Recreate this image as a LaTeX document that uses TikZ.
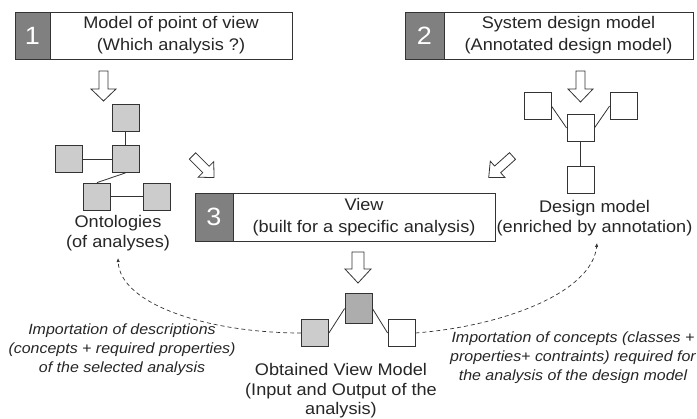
\documentclass[tikz,border=0pt]{standalone}
\usepackage{fontspec}
\setmainfont[FakeStretch=1.08]{Liberation Sans}
\usepackage{tikz}
\usetikzlibrary{shapes,backgrounds,positioning,arrows.meta}

\begin{document}
\begin{tikzpicture}[x=1pt,y=-1pt,
  every node/.style={text=black!85},
  numbox/.style={draw=black!80, fill=black!50, text=white, inner sep=0, minimum height=47, line width=0.8pt, font=\fontsize{25}{25}\selectfont},
  titlebox/.style={draw=black!80, fill=white, inner sep=0, minimum height=47, line width=0.8pt, align=center, font=\fontsize{16.8}{22}\selectfont},
  onto/.style={draw=black!80, fill=black!20, minimum size=27, inner sep=0, line width=0.8pt},
  design/.style={draw=black!80, fill=white, minimum size=27, inner sep=0, line width=0.8pt},
  link/.style={draw=black!80, line width=0.8pt},
  label/.style={align=center, font=\fontsize{16.8}{19.5}\selectfont},
  remark/.style={align=center, font=\fontsize{14.8}{19}\selectfont\itshape},
  hollow/.style={draw=black!80, fill=white, line width=0.8pt, line join=miter},
  import/.style={draw=black!80, line width=0.7pt, dash pattern=on 4pt off 3pt, -{Latex[length=4pt,width=3.5pt]}}]
\useasboundingbox (0,0) rectangle (697,419);

% the three numbered titles
\node[numbox, minimum width=35] (N1) at (32.5,35.5) {1};
\node[titlebox, minimum width=242] (T1) at (171,35.5) {Model of point of view\\(Which analysis ?)};
\node[numbox, minimum width=39] (N2) at (424.5,35.5) {2};
\node[titlebox, minimum width=249] (T2) at (568.5,35.5) {System design model\\(Annotated design model)};
\node[numbox, minimum width=38, minimum height=48] (N3) at (214,217) {3};
\node[titlebox, minimum width=262, minimum height=48] (T3) at (364,217) {View\\(built for a specific analysis)};

% ontologies
\node[onto] (O1) at (125.5,117.5) {};
\node[onto] (O2) at (68.5,159) {};
\node[onto] (O3) at (125.5,159) {};
\node[onto] (O4) at (97,196.5) {};
\node[onto] (O5) at (157,196.5) {};
\draw[link] (O1) -- (O3);
\draw[link] (O2) -- (O3);
\draw[link] (O3.south) -- (O4.north);
\draw[link] (O4) -- (O5);
\node[label] (onto) at (118,233) {Ontologies\\(of analyses)};

% design model
\node[design] (D1) at (537.5,106) {};
\node[design] (D2) at (623.5,106) {};
\node[design] (D3) at (580.5,128) {};
\node[design] (D4) at (580.5,179.5) {};
\draw[link] (D1.east) -- (D3.west);
\draw[link] (D2.west) -- (D3.east);
\draw[link] (D3.south) -- (D4.north);
\node[label] (dsgn) at (594.5,218) {Design model\\(enriched by annotation)};

% obtained view model
\node[onto] (V1) at (315,333) {};
\node[onto, fill=black!32, minimum height=30] (V2) at (358.5,308.5) {};
\node[design] (V3) at (401.5,333) {};
\draw[link] (V1.east) -- (V2.west);
\draw[link] (V2.east) -- (V3.west);
\node[label] (view) at (341,391) {Obtained View Model\\(Input and Output of the\\analysis)};

% hollow arrows
\draw[hollow, shift={(103.5,71)}] (-4.5,0) -- (4.5,0) -- (4.5,18) -- (12.5,18) -- (0,30) -- (-12.5,18) -- (-4.5,18) -- cycle;
\draw[hollow, shift={(580.5,71)}] (-4.5,0) -- (4.5,0) -- (4.5,18) -- (12.5,18) -- (0,31) -- (-12.5,18) -- (-4.5,18) -- cycle;
\draw[hollow, shift={(358,252)}] (-6,0) -- (6,0) -- (6,17) -- (13,17) -- (0,31) -- (-13,17) -- (-6,17) -- cycle;
\draw[hollow, shift={(192.5,156)}, rotate=45] (-4.5,0) -- (4.5,0) -- (4.5,19) -- (11,19) -- (0,30.5) -- (-11,19) -- (-4.5,19) -- cycle;
\draw[hollow, shift={(512.5,156)}, rotate=-48] (-4.5,0) -- (4.5,0) -- (4.5,20) -- (11,20) -- (0,32) -- (-11,20) -- (-4.5,20) -- cycle;

% importations
\coordinate (ontoEnd) at (118,258);
\coordinate (dsgnEnd) at (597,243);
\draw[import] (V1.west) .. controls (210,333) and (120,305) .. (ontoEnd);
\draw[import] (V3.east) .. controls (505,326) and (592,292) .. (dsgnEnd);
\node[remark] (left) at (122,350) {Importation of descriptions\\(concepts + required properties)\\of the selected analysis};
\node[remark] (right) at (573,358) {Importation of concepts (classes +\\properties+ contraints) required for\\the analysis of the design model};
\end{tikzpicture}
\end{document}
